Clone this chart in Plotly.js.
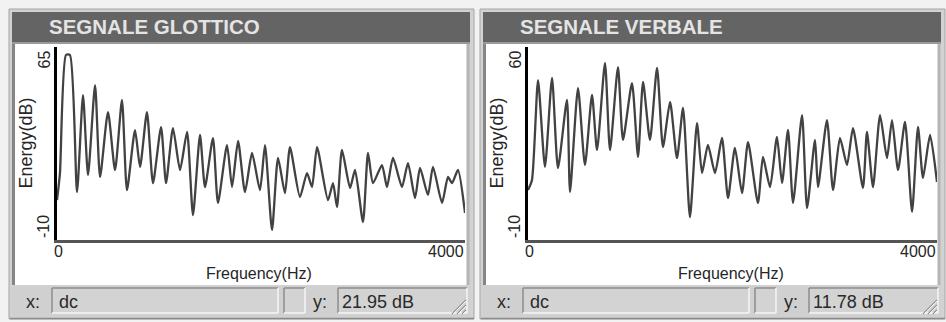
<!DOCTYPE html>
<html><head><meta charset="utf-8">
<script src="https://cdn.plot.ly/plotly-3.0.1.min.js"></script>
<style>html,body{margin:0;padding:0;background:#f2f2f2;overflow:hidden}#chart{width:946px;height:322px}</style>
</head><body><div id="chart"></div>
<script>
// ---- data ----
const glotticoFreq = [0, 29, 88, 127, 196, 255, 304, 373, 422, 500, 569, 637, 686, 765, 814, 882, 941, 1020, 1069, 1137, 1206, 1275, 1333, 1402, 1451, 1529, 1578, 1667, 1716, 1775, 1843, 1912, 1990, 2039, 2108, 2167, 2235, 2284, 2382, 2451, 2500, 2549, 2657, 2706, 2745, 2794, 2873, 2922, 3000, 3049, 3098, 3186, 3235, 3294, 3382, 3441, 3510, 3559, 3637, 3686, 3775, 3833, 3873, 3931, 4000];
const glotticoDb = [5.5, 16.0, 61.9, 61.9, 8.6, 46.3, 15.2, 50.2, 14.5, 39.7, 17.2, 44.4, 9.4, 32.7, 18.4, 39.7, 12.1, 33.9, 12.1, 33.5, 17.2, 32.0, -0.3, 30.8, 10.6, 29.6, 4.4, 26.9, 10.6, 28.5, 8.6, 23.8, 9.4, 26.9, -6.1, 21.9, 8.2, 26.1, 6.7, 16.0, 10.6, 26.1, 5.5, 12.1, 2.8, 25.0, 10.2, 17.2, -3.0, 23.8, 12.1, 19.1, 10.6, 21.9, 10.6, 19.9, 6.3, 18.0, 7.5, 18.4, 4.4, 14.5, 12.1, 17.2, 0.5];
const verbaleFreq = [0, 39, 98, 166, 235, 293, 381, 411, 489, 557, 626, 675, 753, 802, 880, 929, 1017, 1076, 1125, 1193, 1262, 1320, 1389, 1457, 1516, 1584, 1653, 1702, 1760, 1829, 1897, 1956, 2024, 2093, 2152, 2249, 2298, 2367, 2435, 2484, 2543, 2592, 2680, 2729, 2807, 2836, 2924, 2983, 3051, 3120, 3178, 3276, 3315, 3374, 3443, 3511, 3560, 3619, 3687, 3756, 3814, 3863, 3932, 4000];
const verbaleDb = [8.1, 11.8, 48.0, 16.5, 48.8, 16.1, 40.8, 7.4, 45.1, 17.2, 42.6, 22.6, 54.2, 22.6, 52.7, 26.3, 46.9, 20.1, 47.3, 26.3, 52.4, 23.7, 40.1, 19.7, 37.9, -1.7, 32.4, 14.3, 24.5, 14.3, 27.0, 5.2, 23.4, 7.0, 25.5, 3.4, 20.1, 9.2, 27.4, 10.7, 29.9, 3.4, 35.3, 1.6, 26.3, 9.2, 33.5, 8.1, 27.0, 17.2, 30.6, 8.9, 29.2, 9.2, 35.3, 19.7, 33.5, 15.4, 32.8, 0.2, 31.0, 12.5, 28.1, 11.0];
const panelTitles = ["SEGNALE GLOTTICO", "SEGNALE VERBALE"];
const yTopLabels = ["65", "60"];
const yTopValues = [65, 60];
const yBottomValue = -10;
const xMin = 0, xMax = 4000;
const xTickLabels = ["0", "4000"];
const yTitle = "Energy(dB)";
const xTitle = "Frequency(Hz)";
const statusX = ["dc", "dc"];
const statusY = ["21.95 dB", "11.78 dB"];

// ---- layout helpers (pixels -> paper) ----
const W = 946, H = 322;
const X = p => p / W, Y = p => 1 - p / H;
const FONT = "Liberation Sans, Arial, sans-serif";
const shapes = [], annotations = [];
function rect(x0, y0, x1, y1, fill, lc, lw) {
  shapes.push({type: 'rect', xref: 'paper', yref: 'paper', layer: 'below',
    x0: X(x0), x1: X(x1), y0: Y(y1), y1: Y(y0), fillcolor: fill,
    line: {color: lc || fill, width: lw === undefined ? 0 : lw}});
}
function ln(x0, y0, x1, y1, color, w) {
  shapes.push({type: 'line', xref: 'paper', yref: 'paper', layer: 'below',
    x0: X(x0), x1: X(x1), y0: Y(y0), y1: Y(y1), line: {color: color, width: w}});
}
function txt(text, x, y, opts) {
  annotations.push(Object.assign({text: text, xref: 'paper', yref: 'paper', x: X(x), y: Y(y),
    showarrow: false, xanchor: 'center', yanchor: 'middle',
    font: {family: FONT, size: 16, color: '#262626'}}, opts || {}));
}
function field(x0, y0, x1, y1) {
  rect(x0, y0, x1, y1, '#d3d3d3');
  ln(x0, y0, x1, y0, '#8c8c8c', 1.5);
  ln(x0, y0, x0, y1, '#8c8c8c', 1.5);
  ln(x0, y1, x1, y1, '#f6f6f6', 1.5);
  ln(x1, y0, x1, y1, '#f6f6f6', 1.5);
}

const offsets = [0, 471];
const axisPix = [[57, 465], [528, 937]];
offsets.forEach((d, i) => {
  // window frame
  rect(9 + d, 9, 474 + d, 319, '#d2d2d2', '#a5a5a5', 1);
  // title bar
  rect(12 + d, 12, 470 + d, 42, '#646464');
  ln(12 + d, 43, 470 + d, 43, '#9a9a9a', 2);
  // client area
  rect(13 + d, 44, 469 + d, 285, '#ffffff');
  ln(13.5 + d, 44, 13.5 + d, 285, '#858585', 3);
  ln(468 + d, 44, 468 + d, 285, '#b5b5b5', 3);
  // status bar
  rect(12 + d, 286, 470 + d, 317, '#d0d0d0');
  ln(10 + d, 318.5, 474 + d, 318.5, '#8a8a8a', 1.5);
  field(52 + d, 288, 278 + d, 313);
  field(284 + d, 288, 305 + d, 313);
  field(338 + d, 288, 467 + d, 313);
  // size grip
  [0, 5, 10].forEach(k => {
    ln(452 + k + d, 314, 466 + d, 300 + k, '#8f8f8f', 1.2);
    ln(453 + k + d, 314, 466 + d, 301 + k, '#f4f4f4', 1);
  });
  // texts
  txt('<b>' + panelTitles[i] + '</b>', 47 + d, 27, {xanchor: 'left',
    font: {family: FONT, size: 20.5, color: '#e4e4e4'}});
  txt(yTopLabels[i], 43.5 + d, 60, {textangle: -90});
  txt(String(yBottomValue), 43.5 + d, 226.5, {textangle: -90});
  txt(yTitle, 25 + d, 143.5, {textangle: -90, font: {family: FONT, size: 18, color: '#262626'}});
  txt(xTickLabels[0], axisPix[i][0] + 1, 251);
  txt(xTickLabels[1], axisPix[i][1] + 1, 251, {xanchor: 'right'});
  txt(xTitle, (axisPix[i][0] + axisPix[i][1]) / 2 - 2, 273.5);
  txt('x:', 33 + d, 302, {font: {family: FONT, size: 18, color: '#2a2a2a'}});
  txt(statusX[i], 57 + d, 302, {xanchor: 'left', font: {family: FONT, size: 18, color: '#2a2a2a'}});
  txt('y:', 320 + d, 302, {font: {family: FONT, size: 18, color: '#2a2a2a'}});
  txt(statusY[i], 340 + d, 302, {xanchor: 'left', font: {family: FONT, size: 18, color: '#2a2a2a'}});
});

const lineStyle = {color: '#424242', width: 2.3, shape: 'spline', smoothing: 0.6};
const traces = [
  {x: glotticoFreq, y: glotticoDb, type: 'scatter', mode: 'lines', line: lineStyle, xaxis: 'x', yaxis: 'y', hoverinfo: 'skip'},
  {x: verbaleFreq, y: verbaleDb, type: 'scatter', mode: 'lines', line: lineStyle, xaxis: 'x2', yaxis: 'y2', hoverinfo: 'skip'}
];
function xa(i, anchor) {
  return {domain: [X(axisPix[i][0]), X(axisPix[i][1])], range: [xMin, xMax], anchor: anchor,
    showgrid: false, zeroline: false, showticklabels: false, ticks: '',
    showline: true, linecolor: '#555555', linewidth: 2.5, fixedrange: true};
}
function ya(i, anchor) {
  return {domain: [Y(240), Y(47)], range: [yBottomValue, yTopValues[i]], anchor: anchor,
    showgrid: false, zeroline: false, showticklabels: false, ticks: '',
    showline: true, linecolor: '#000000', linewidth: 3.5, fixedrange: true};
}
const layout = {
  width: W, height: H, margin: {l: 0, r: 0, t: 0, b: 0},
  paper_bgcolor: '#f2f2f2', plot_bgcolor: 'rgba(0,0,0,0)', showlegend: false,
  xaxis: xa(0, 'y'), yaxis: ya(0, 'x'), xaxis2: xa(1, 'y2'), yaxis2: ya(1, 'x2'),
  shapes: shapes, annotations: annotations
};
Plotly.newPlot('chart', traces, layout, {displayModeBar: false, staticPlot: true});
</script></body></html>
